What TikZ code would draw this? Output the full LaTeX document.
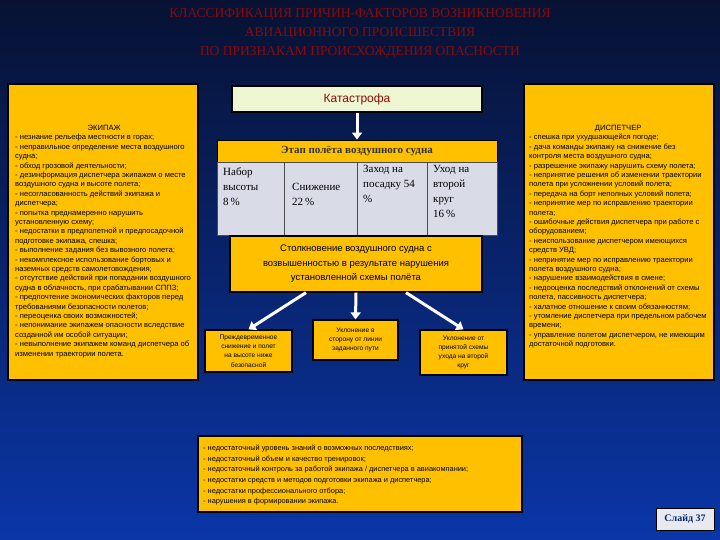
\documentclass[tikz,border=0pt]{standalone}
\usepackage{fontspec}
\setmainfont{Liberation Sans}
\newfontfamily\serifru{Liberation Serif}
\usetikzlibrary{arrows.meta}
\definecolor{ybox}{HTML}{FFC000}
\definecolor{titred}{HTML}{8A0A0A}
\definecolor{bgtop}{HTML}{071233}
\definecolor{bgbot}{HTML}{0A36A8}
\definecolor{cellg}{HTML}{D9DCE6}
\definecolor{katbg}{HTML}{EEF6D2}
\tikzset{
  ybx/.style={draw=black,line width=1.2pt,fill=ybox},
  small/.style={font=\fontsize{7.6}{9.4}\selectfont,align=left,inner sep=0pt,anchor=north west},
  arr/.style={white,line width=3pt,-{Triangle[length=7pt,width=10pt]}},
  cell/.style={font=\serifru\fontsize{11}{15}\selectfont,align=left,anchor=north west,inner sep=0pt},
}
\begin{document}
\begin{tikzpicture}[x=1pt,y=-1pt]
\shade[top color=bgtop,bottom color=bgbot] (0,0) rectangle (720,540);
\useasboundingbox (0,0) rectangle (720,540);
% title
\node[font=\serifru\fontsize{13.5}{19}\selectfont,text=titred,align=center] (title) at (360,33)
 {КЛАССИФИКАЦИЯ ПРИЧИН-ФАКТОРОВ ВОЗНИКНОВЕНИЯ\\АВИАЦИОННОГО ПРОИСШЕСТВИЯ\\ПО ПРИЗНАКАМ ПРОИСХОЖДЕНИЯ ОПАСНОСТИ};
% left box
\draw[ybx] (8,84) rectangle (198,380);
\node[small] (crew) at (15,125) {\parbox{178pt}{\centering ЭКИПАЖ\par\raggedright
- незнание рельефа местности в горах;\\
- неправильное определение места воздушного судна;\\
- обход грозовой деятельности;\\
- дезинформация диспетчера экипажем о месте воздушного судна и высоте полета;\\
- несогласованность действий экипажа и диспетчера;\\
- попытка преднамеренно нарушить установленную схему;\\
- недостатки в предполетной и предпосадочной подготовке экипажа, спешка;\\
- выполнение задания без вывозного полета;\\
- некомплексное использование бортовых и наземных средств самолетовождения;\\
- отсутствие действий при попадании воздушного судна в облачность, при срабатывании СППЗ;\\
- предпочтение экономических факторов перед требованиями безопасности полетов;\\
- переоценка своих возможностей;\\
- непонимание экипажем опасности вследствие созданной им особой ситуации;\\
- невыполнение экипажем команд диспетчера об изменении траектории полета.}};
% right box
\draw[ybx] (524,84) rectangle (714,380);
\node[small] (disp) at (529,125) {\parbox{178pt}{\centering ДИСПЕТЧЕР\par\raggedright
- спешка при ухудшающейся погоде;\\
- дача команды экипажу на снижение без контроля места воздушного судна;\\
- разрешение экипажу нарушить схему полета;\\
- непринятие решения об изменении траектории полета при усложнении условий полета;\\
- передача на борт неполных условий полета;\\
- непринятие мер по исправлению траектории полета;\\
- ошибочные действия диспетчера при работе с оборудованием;\\
- неиспользование диспетчером имеющихся средств УВД;\\
- непринятие мер по исправлению траектории полета воздушного судна;\\
- нарушение взаимодействия в смене;\\
- недооценка последствий отклонений от схемы полета, пассивность диспетчера;\\
- халатное отношение к своим обязанностям;\\
- утомление диспетчера при предельном рабочем времени;\\
- управление полетом диспетчером, не имеющим достаточной подготовки.}};
% katastrofa
\node[draw=black,line width=1.2pt,fill=katbg,minimum width=250pt,minimum height=26pt,
 font=\fontsize{12}{14}\selectfont,text=titred] (kat) at (357,99) {Катастрофа};
% table
\node[draw=black,line width=0.8pt,fill=ybox,minimum width=280pt,minimum height=22pt,
 font=\serifru\bfseries\fontsize{11}{13}\selectfont,text=black!80] (stage) at (357,151) {Этап полёта воздушного судна};
\draw[fill=cellg,draw=black!70,line width=0.6pt] (217,162) rectangle (497,235);
\foreach \xx in {284,357,427} \draw[black!70,line width=0.6pt] (\xx,162) -- (\xx,235);
\node[cell] (c1) at (223,167) {Набор\\высоты\\8\,\%};
\node[cell] (c2) at (292,183) {Снижение\\22\,\%};
\node[cell] (c3) at (363,165) {Заход на\\посадку 54\\\%};
\node[cell] (c4) at (433,165) {Уход на\\второй\\круг\\16\,\%};
\draw[arr] (kat.south) -- (stage.north);
% collision
\node[ybx,minimum width=252pt,minimum height=56pt,align=center,
 font=\fontsize{9.5}{14.5}\selectfont] (coll) at (356,264)
 {Столкновение воздушного судна с\\возвышенностью в результате нарушения\\установленной схемы полёта};
% three small
\tikzset{sb/.style={ybx,align=center,font=\fontsize{6.6}{9.2}\selectfont,inner sep=2pt}}
\node[sb,minimum width=87pt,minimum height=42pt] (b1) at (248.5,351) {Преждевременное\\снижение и полет\\на высоте ниже\\безопасной};
\node[sb,minimum width=85pt,minimum height=40pt] (b2) at (355.5,340) {Уклонение в\\сторону от линии\\заданного пути};
\node[sb,minimum width=87pt,minimum height=45pt] (b3) at (463.5,352.5) {Уклонение от\\принятой схемы\\ухода на второй\\круг};
\draw[arr] ([xshift=-50pt]coll.south) -- (b1.north);
\draw[arr] (coll.south) -- (b2.north);
\draw[arr] ([xshift=50pt]coll.south) -- (b3.north);
% bottom box
\draw[ybx] (198,436) rectangle (522,512);
\node[small,font=\fontsize{7.4}{10.6}\selectfont] (bot) at (203,445) {
- недостаточный уровень знаний о возможных последствиях;\\
- недостаточный объем и качество тренировок;\\
- недостаточный контроль за работой экипажа / диспетчера в авиакомпании;\\
- недостатки средств и методов подготовки экипажа и диспетчера;\\
- недостатки профессионального отбора;\\
- нарушения в формировании экипажа.};
% slide label
\node[draw=black,line width=1pt,fill=cellg!60!white,minimum width=58pt,minimum height=22pt,
 font=\serifru\bfseries\fontsize{10}{12}\selectfont,text=bgbot!70!black] (slide) at (685,519) {Слайд 37};
\end{tikzpicture}
\end{document}
